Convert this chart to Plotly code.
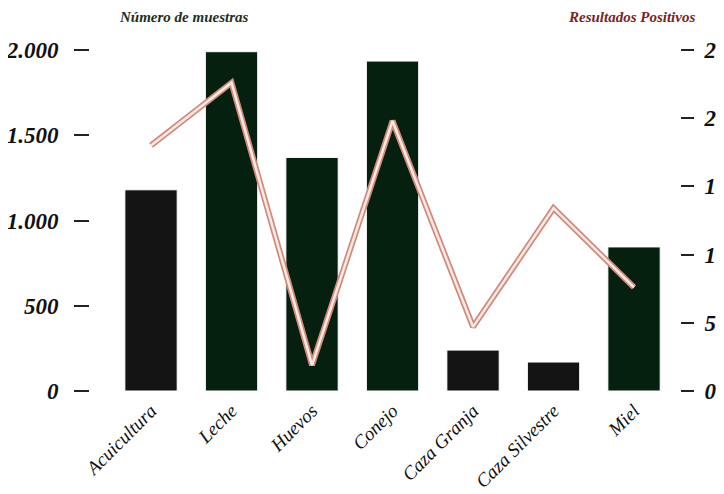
import plotly.graph_objects as go

# Datos
categorias = ["Acuicultura", "Leche", "Huevos", "Conejo", "Caza Granja", "Caza Silvestre", "Miel"]
muestras = [1180, 1990, 1370, 1935, 240, 170, 845]
positivos = [18.0, 22.6, 1.9, 19.8, 4.7, 13.4, 7.6]
colores_barras = ["#141414", "#06200f", "#06200f", "#06200f", "#141414", "#141414", "#06200f"]

ticks_izq = [0, 500, 1000, 1500, 2000]
textos_izq = ["0", "500", "1.000", "1.500", "2.000"]
ticks_der = [0, 5, 10, 15, 20, 25]
textos_der = ["0", "5", "10", "15", "20", "25"]

fuente = "Liberation Serif"

fig = go.Figure()

fig.add_trace(go.Bar(
    x=categorias, y=muestras,
    marker=dict(color=colores_barras, line=dict(color="#ffffff", width=1)),
    width=0.65,
    yaxis="y",
))

# linea doble: borde salmon y centro claro
fig.add_trace(go.Scatter(
    x=categorias, y=positivos, mode="lines",
    line=dict(color="#cf8c7e", width=6),
    yaxis="y2",
))
fig.add_trace(go.Scatter(
    x=categorias, y=positivos, mode="lines",
    line=dict(color="#fbe9e2", width=2.5),
    yaxis="y2",
))

eje_y = dict(
    showgrid=False, zeroline=False, showline=False, automargin=False,
    ticks="outside", tickwidth=1.5, tickcolor="#222222",
    tickfont=dict(family=fuente, size=23, color="#111111", weight="bold", style="italic"),
)

fig.update_layout(
    width=724, height=494,
    # la pagina tiene 8px de margen en el body
    margin=dict(l=82, r=52, t=42, b=111, autoexpand=False),
    paper_bgcolor="white", plot_bgcolor="white",
    showlegend=False,
    xaxis=dict(
        range=[-0.758, 6.571], automargin=False,
        showgrid=False, zeroline=False, showline=False, ticks="",
        tickangle=-45, ticklabelstandoff=4,
        tickfont=dict(family=fuente, size=19, color="#111111", style="italic"),
    ),
    yaxis=dict(range=[0, 2000], tickvals=ticks_izq, ticktext=textos_izq,
               ticklen=15, ticklabelstandoff=11, **eje_y),
    yaxis2=dict(range=[0, 25], tickvals=ticks_der, ticktext=textos_der,
                overlaying="y", side="right", ticklen=13, ticklabelstandoff=6, **eje_y),
    annotations=[
        dict(text="Número de muestras", xref="paper", yref="paper", x=0.046, y=1.0,
             yshift=33, xanchor="left", yanchor="middle", showarrow=False,
             font=dict(family=fuente, size=15, color="#1b2e1f", weight="bold", style="italic")),
        dict(text="Resultados Positivos", xref="paper", yref="paper", x=1.029, y=1.0,
             yshift=33, xanchor="right", yanchor="middle", showarrow=False,
             font=dict(family=fuente, size=15, color="#7a2323", weight="bold", style="italic")),
    ],
)

fig.write_html("out.html")
